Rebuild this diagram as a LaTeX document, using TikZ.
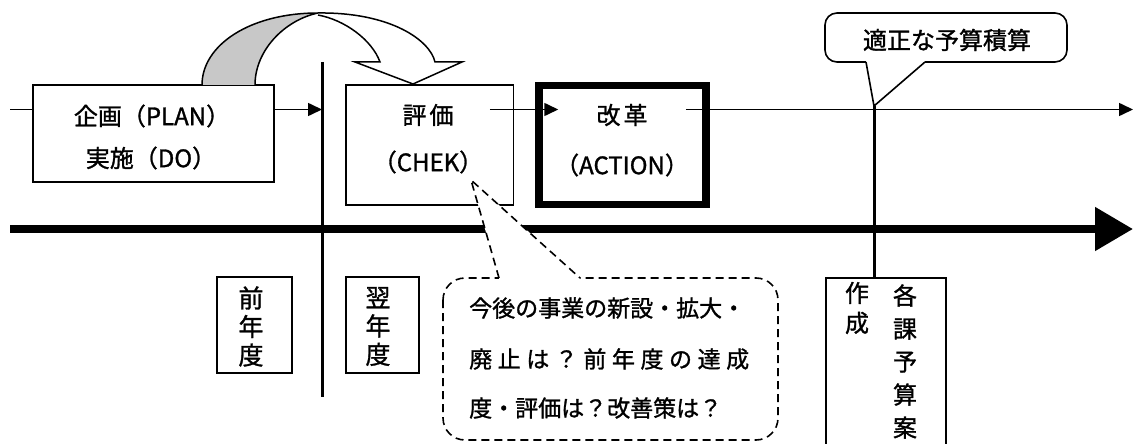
\documentclass[tikz,border=0pt]{standalone}
\usepackage{fontspec}
\setmainfont{Noto Sans CJK JP}[RawFeature={embolden=1.2}]
\usetikzlibrary{arrows.meta,calc}
\definecolor{arcgray}{RGB}{200,200,200}
\begin{document}
\begin{tikzpicture}[x=1pt,y=-1pt,
  box/.style={draw, line width=1.8pt, fill=white, inner sep=0pt},
  kbox/.style={draw, line width=7.5pt, fill=white, inner sep=0pt},
  lbl/.style={inner sep=0pt, font=\fontsize{24pt}{30pt}\selectfont},
  ctext/.style={inner sep=0pt, anchor=west, font=\fontsize{23pt}{23pt}\selectfont},
  conn/.style={line width=1.6pt},
  arr/.style={conn, -{Triangle[length=14pt,width=13pt]}},
  vline/.style={line width=3pt},
  bigarrow/.style={line width=8pt, -{Triangle[length=38pt,width=42pt]}},
  callout/.style={draw, line width=1.6pt, fill=white},
  dcallout/.style={line width=1.6pt, dash pattern=on 8pt off 5pt},
]
\useasboundingbox (0,0) rectangle (1133,444);
\clip (0,0) rectangle (1133,444);

% coordinates
\coordinate (row) at (0,109.5);
\coordinate (lstart) at (10,109.5);
\coordinate (rend) at (1133,109.5);
\coordinate (vtop) at (322,62);
\coordinate (vbot) at (322,397);
\coordinate (tstart) at (10,229);
\coordinate (tend) at (1133,229);
\coordinate (tip1) at (471,180);
\coordinate (tip2) at (874,106);

% time axis
\draw[bigarrow] (tstart) -- (tend);
\draw[vline] (vtop) -- (vbot);

% main boxes
\node[box, minimum width=241pt, minimum height=97pt] (plan) at (153.5,133.5) {};
\node[box, minimum width=167.5pt, minimum height=120pt] (eval) at (429.75,145) {};
\node[kbox, minimum width=167pt, minimum height=119pt] (kai) at (622.5,145) {};

% lower boxes
\node[box, minimum width=75pt, minimum height=96pt] (zen) at (254.5,325) {};
\node[box, minimum width=73pt, minimum height=96pt] (yoku) at (382.5,325) {};
\node[box, minimum width=120pt, minimum height=200pt, anchor=north] (kaku) at (886,277) {};

% connectors on the top row
\draw[conn] (lstart) -- (plan.west |- row);
\draw[arr] (plan.east |- row) -- (vtop |- row);
\draw[arr] ($(eval.east |- row)+(-24.5,0)$) -- ($(kai.west |- row)+(23,0)$);
\draw[arr] ($(kai.east |- row)+(-24,0)$) -- (rend);
\draw[vline] (tip2) -- (tip2 |- kaku.north);

% curved arrow from PLAN box to CHEK box
\filldraw[fill=arcgray, line width=1.5pt] (202,85) .. controls (202,45) and (250,13) .. (318,13)
   .. controls (285,20) and (255,50) .. (255,85);
\filldraw[fill=white, line width=1.5pt] (318,13) .. controls (390,12) and (430,40) .. (435,62)
   -- (462,62) -- (413,84) -- (355,62) -- (380,62)
   .. controls (372,40) and (345,20) .. (318,15);

% labels in boxes
\node[lbl] (t1) at (152,116) {企画（PLAN）};
\node[lbl] (t2) at (151,158) {実施（DO）};
\node[lbl] (t3) at (428,115) {評\hspace{3pt}価};
\node[lbl] (t4) at (428,162) {（CHEK）};
\node[lbl] (t5) at (622,115) {改\hspace{3pt}革};
\node[lbl] (t6) at (622,165) {（ACTION）};

\node[inner sep=0pt, align=center, font=\fontsize{25pt}{28.5pt}\selectfont] (t7) at (251,326.5) {前\\年\\度};
\node[inner sep=0pt, align=center, font=\fontsize{25pt}{28.5pt}\selectfont] (t8) at (378,326.5) {翌\\年\\度};
\node[inner sep=0pt, align=center, font=\fontsize{24pt}{30pt}\selectfont] (t9) at (857,308) {作\\成};
\node[inner sep=0pt, align=center, font=\fontsize{24pt}{33pt}\selectfont] (t10) at (905,361.5) {各\\課\\予\\算\\案};

% callout: appropriate budget
\draw[callout, rounded corners=12pt] (825,13) rectangle (1067,62);
\fill[white] (866,59) rectangle (925,64);
\fill[white] (866,62) -- (tip2) -- (925,62) -- cycle;
\draw[conn, line join=round] (866,62) -- (tip2) -- (925,62);
\node[lbl] (t11) at (947,40) {適正な予算積算};

% dashed callout
\draw[dcallout, fill=white, rounded corners=22pt] (443,278) rectangle (778,440);
\fill[white] (499,275) rectangle (580,281);
\fill[white] (499,278) -- (tip1) -- (580,278) -- cycle;
\draw[dcallout] (499,278) -- (tip1) -- (580,278);
\node[ctext] (c1) at (469,308) {今後の事業の新設・拡大・};
\node[ctext] (c2) at (469,359) {\makebox[280pt][s]{廃\hfill 止\hfill は\hfill ？\hfill 前\hfill 年\hfill 度\hfill の\hfill 達\hfill 成}};
\node[ctext] (c3) at (469,408) {度・評価は？改善策は？};
\end{tikzpicture}
\end{document}
